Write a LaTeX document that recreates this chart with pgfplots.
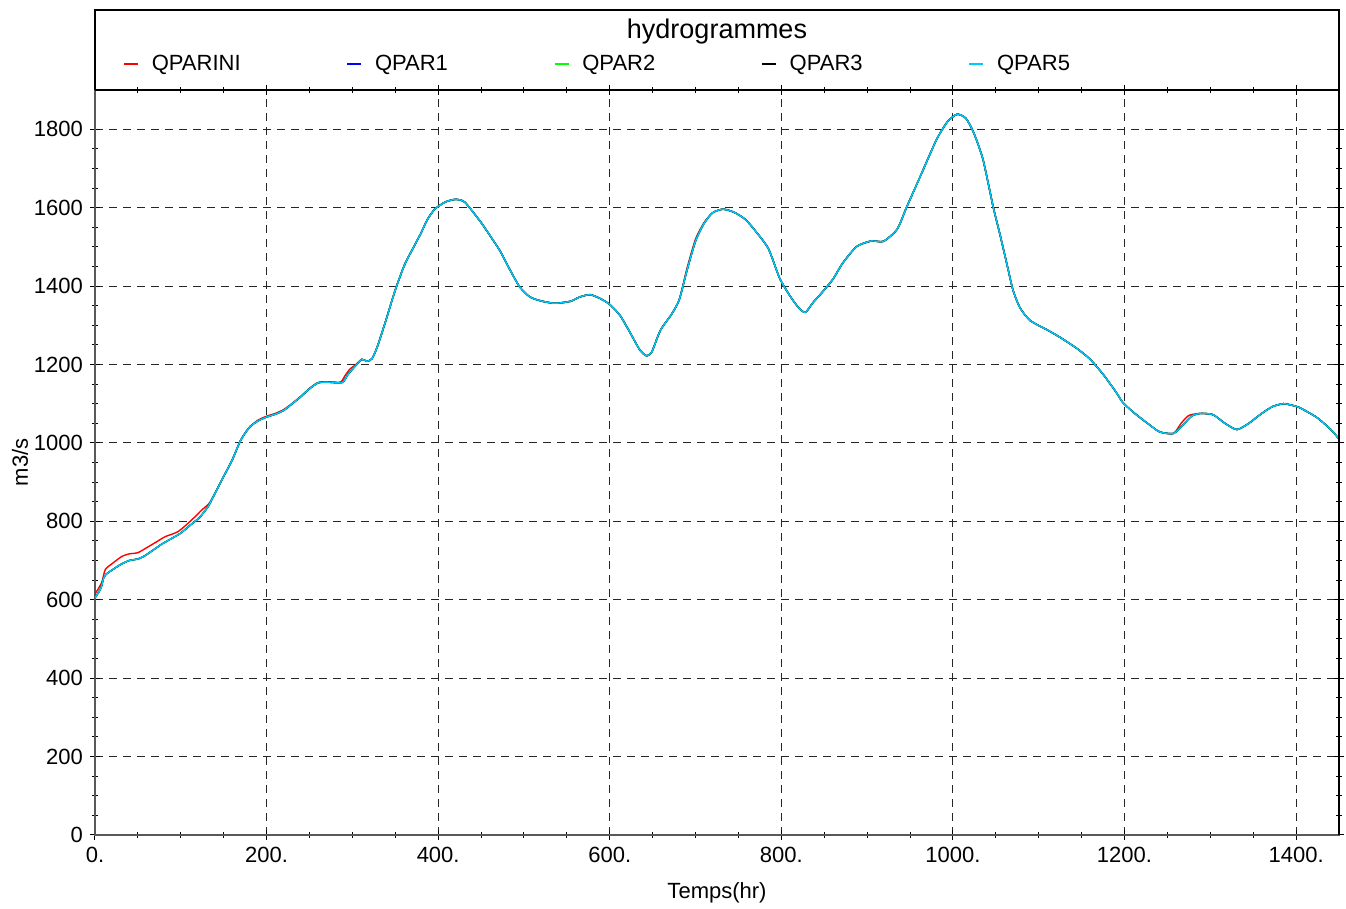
\documentclass[border=0pt]{standalone}
\usepackage{fontspec}
\setmainfont{Liberation Sans}
\usepackage{pgfplots}
\pgfplotsset{compat=1.18}
\usepackage{pgfplotstable}

\definecolor{qgreen}{RGB}{0,255,0}
\definecolor{qcyan}{RGB}{0,200,255}

% common hydrograph (QPAR1..QPAR5 are almost identical)
\pgfplotstableread{
x y
0 605
3 615
7 630
10 655
13 665
20 676
30 690
40 700
50 704
58 712
66 724
78 742
90 757
100 770
112 792
122 810
132 838
136 855
148 906
160 957
169 1003
175 1025
181 1042
190 1056
200 1066
210 1073
220 1083
230 1100
240 1118
250 1138
260 1153
270 1155
288 1154
295 1175
303 1195
311 1213
317 1208
323 1215
329 1245
338 1305
350 1390
361 1455
373 1506
380 1535
387 1568
396 1596
408 1614
420 1621
431 1614
449 1565
460 1530
472 1490
484 1440
495 1398
507 1372
520 1362
536 1356
554 1361
565 1372
577 1378
589 1368
600 1353
612 1325
624 1280
635 1237
643 1222
649 1232
659 1287
672 1328
681 1365
690 1440
700 1515
710 1560
720 1587
732 1596
745 1588
758 1570
770 1540
785 1495
798 1420
810 1375
820 1345
828 1333
837 1358
848 1385
860 1417
872 1460
888 1501
905 1515
919 1514
935 1545
946 1601
962 1680
981 1774
994 1820
1005 1838
1015 1828
1024 1792
1035 1723
1047 1601
1055 1530
1063 1455
1070 1390
1078 1345
1090 1312
1110 1288
1125 1269
1145 1240
1160 1213
1175 1175
1190 1130
1198 1103
1212 1075
1228 1048
1241 1028
1257 1024
1268 1045
1278 1068
1288 1075
1303 1072
1317 1050
1331 1034
1345 1050
1358 1072
1372 1092
1385 1100
1395 1096
1404 1090
1424 1065
1440 1035
1450 1010
}\qpar

% initial parameters: higher at the start
\pgfplotstableread{
x y
0 615
3 625
8 645
12 677
20 692
31 710
40 717
50 720
62 735
72 748
82 761
97 774
113 804
125 830
132 843
136 856
148 906
160 957
169 1003
175 1025
181 1042
190 1058
200 1068
210 1075
220 1085
230 1101
240 1119
250 1139
260 1154
270 1156
286 1155
291 1170
297 1188
303 1198
311 1213
317 1208
323 1215
329 1245
338 1305
350 1390
361 1455
373 1506
380 1535
387 1568
396 1596
408 1614
420 1621
431 1614
449 1565
460 1530
472 1490
484 1440
495 1398
507 1372
520 1362
536 1356
554 1361
565 1372
577 1378
589 1368
600 1353
612 1325
624 1280
635 1237
643 1222
649 1232
659 1287
672 1328
681 1365
690 1445
700 1520
710 1562
720 1587
732 1596
745 1588
758 1570
770 1540
785 1495
798 1420
810 1375
820 1345
828 1333
837 1358
848 1385
860 1417
872 1460
888 1501
905 1515
919 1514
935 1545
946 1601
962 1680
981 1774
994 1820
1005 1838
1015 1828
1024 1792
1035 1723
1047 1601
1055 1530
1063 1455
1070 1390
1078 1345
1090 1312
1110 1288
1125 1269
1145 1240
1160 1213
1175 1175
1190 1130
1198 1103
1212 1075
1228 1048
1241 1028
1257 1024
1266 1050
1275 1070
1288 1075
1303 1072
1317 1050
1331 1034
1345 1050
1358 1072
1372 1092
1385 1100
1395 1096
1404 1090
1424 1065
1440 1035
1450 1010
}\qparini

\begin{document}
\begin{tikzpicture}
\begin{axis}[
    name=ax,
    scale only axis,
    width=622pt, height=372.5pt,
    xmin=0, xmax=1450, ymin=0, ymax=1900,
    xtick={0,200,...,1400},
    xticklabels={0.,200.,400.,600.,800.,1000.,1200.,1400.},
    ytick={0,200,...,1800},
    minor x tick num=3, minor y tick num=3,
    tick align=center,
    major tick length=5pt, minor tick length=3pt,
    tick style={black, line width=0.5pt},
    xmajorgrids, ymajorgrids,
    major grid style={black!85, dash pattern=on 4pt off 3pt, line width=0.5pt},
    axis line style={black!65, line width=0.8pt},
    ticklabel style={font=\fontsize{11}{13}\selectfont},
    /pgf/number format/assume math mode=true,
    /pgf/number format/1000 sep={},
    xlabel={Temps(hr)}, ylabel={m3/s},
    label style={font=\fontsize{11}{13}\selectfont},
    xlabel style={at={(axis description cs:0.5,-0.0779)}, anchor=center},
    ylabel style={at={(axis description cs:-0.0603,0.5)}, anchor=center},
    legend columns=5,
    legend image code/.code={\draw[#1, line width=0.7pt] (0pt,0pt) -- (7pt,0pt);},
    legend style={draw=none, fill=none, inner sep=0pt,
        at={(axis description cs:0,1)}, anchor=west, xshift=14pt, yshift=13pt,
        font=\fontsize{11}{13}\selectfont,
        nodes={inner sep=0pt},
        /tikz/every odd column/.append style={column sep=6.5pt},
        /tikz/every even column/.append style={column sep=53pt}},
    every axis plot/.append style={line width=0.7pt, smooth, tension=0.4},
]
\addplot[red] table[x=x, y=y] {\qparini};
\addlegendentry{QPARINI}
\addplot[blue] table[x=x, y=y] {\qpar};
\addlegendentry{QPAR1}
\addplot[qgreen] table[x=x, y=y] {\qpar};
\addlegendentry{QPAR2}
\addplot[black] table[x=x, y=y] {\qpar};
\addlegendentry{QPAR3}
\addplot[qcyan] table[x=x, y=y] {\qpar};
\addlegendentry{QPAR5}
\end{axis}
\draw[black, line width=0.8pt] (ax.south east) -- (ax.north east) -- ([yshift=40pt]ax.north east)
    -- ([yshift=40pt]ax.north west) -- (ax.north west);
\draw[black, line width=0.8pt] (ax.north west) -- (ax.north east);
\node[font=\fontsize{13.5}{16}\selectfont] at ([yshift=29pt]ax.north) {hydrogrammes};
\pgfresetboundingbox
\path ([xshift=-47.5pt,yshift=-37pt]ax.south west) rectangle ([xshift=3.5pt,yshift=45pt]ax.north east);
\end{tikzpicture}
\end{document}
